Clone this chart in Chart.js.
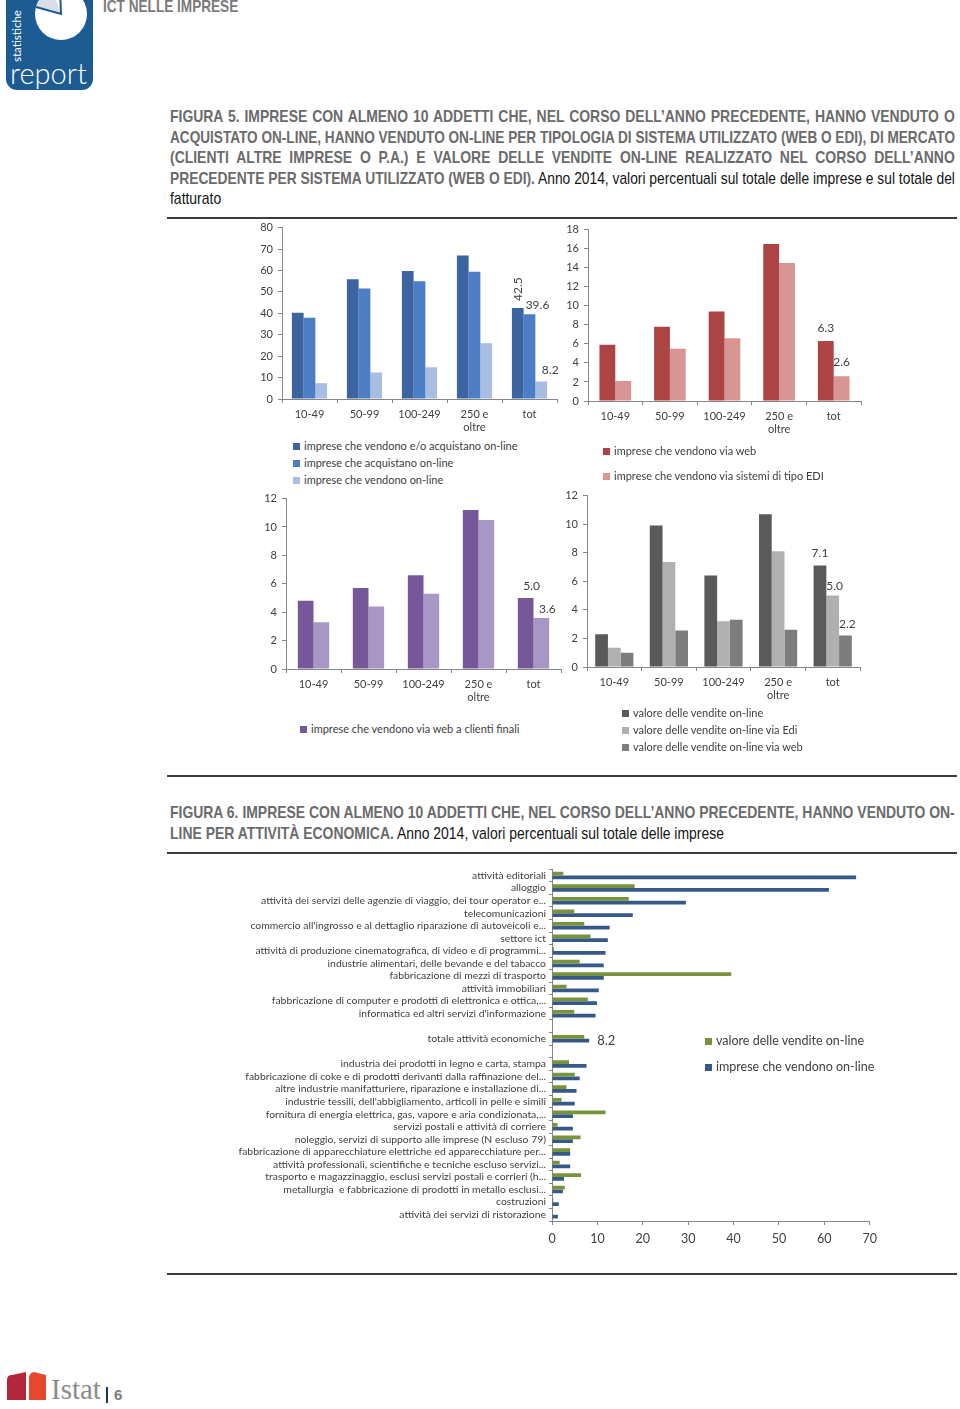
<!DOCTYPE html>
<html><head><meta charset="utf-8">
<script src="https://cdn.jsdelivr.net/npm/chart.js@4.4.1/dist/chart.umd.min.js"></script>
<style>
html,body{margin:0;padding:0;background:#fff;}
body{width:960px;height:1409px;position:relative;overflow:hidden;font-family:Lato,"Open Sans",sans-serif;}
.abs{position:absolute;}
.ttl{position:absolute;font-family:"Liberation Sans",Arial,sans-serif;transform:scaleX(0.82);transform-origin:0 0;width:957px;}
.tline{height:20.6px;line-height:20.6px;font-size:17px;white-space:nowrap;text-align:justify;text-align-last:justify;transform-origin:0 0;}
.tline.left{text-align:left;text-align-last:left;}
.b{font-weight:bold;color:#6b6b6b;}
.n{color:#151515;}
.rule{position:absolute;left:167px;width:790px;height:1.5px;background:#3c3c3c;}
.legend{position:absolute;font-size:11px;color:#404040;}
.legend .it{position:absolute;white-space:nowrap;}
.legend .sq{display:inline-block;width:7px;height:7px;margin-right:4px;vertical-align:0px;}
.cw{position:absolute;}
</style>
</head><body>

<svg class="abs" style="left:0;top:0" width="100" height="95">
  <rect x="6" y="-12" width="87" height="102" rx="11" fill="#1d5c92"/>
  <circle cx="61" cy="14" r="26" fill="#ffffff"/>
  <path d="M61 14 L36 7 A26 26 0 0 1 52 -10 Z" fill="#d9dee6"/>
  <path d="M36 7 L61 14 L60 -12" stroke="#1d5c92" stroke-width="2" fill="none"/>
  <text x="21" y="62" transform="rotate(-90 21 62)" fill="#fff" font-size="11.5" font-family="Lato, sans-serif">statistiche</text>
  <text x="10" y="84" fill="#fff" font-size="29" font-weight="300" font-family="Lato, sans-serif">report</text>
</svg>
<div class="abs" style="left:103px;top:-3px;font-family:'Liberation Sans',Arial,sans-serif;font-size:17px;font-weight:bold;color:#7a7a7a;transform:scaleX(0.8);transform-origin:0 0;white-space:nowrap;">ICT NELLE IMPRESE</div>

<div class="ttl" style="left:170px;top:107px;">
  <div class="tline b">FIGURA 5. IMPRESE CON ALMENO 10 ADDETTI CHE, NEL CORSO DELL’ANNO PRECEDENTE, HANNO VENDUTO O</div>
  <div class="tline b">ACQUISTATO ON-LINE, HANNO VENDUTO ON-LINE PER TIPOLOGIA DI SISTEMA UTILIZZATO (WEB O EDI), DI MERCATO</div>
  <div class="tline b">(CLIENTI ALTRE IMPRESE O P.A.) E VALORE DELLE VENDITE ON-LINE REALIZZATO NEL CORSO DELL’ANNO</div>
  <div class="tline"><span class="b">PRECEDENTE PER SISTEMA UTILIZZATO (WEB O EDI).</span> <span class="n">Anno 2014, valori percentuali sul totale delle imprese e sul totale del</span></div>
  <div class="tline left n">fatturato</div>
</div>
<div class="rule" style="top:217px"></div>

<div class="cw" style="left:250px;top:216px;width:310px;height:223px"><canvas id="c1"></canvas></div>
<div class="cw" style="left:555px;top:218px;width:310px;height:223px"><canvas id="c2"></canvas></div>
<div class="cw" style="left:254px;top:487px;width:310px;height:222px"><canvas id="c3"></canvas></div>
<div class="cw" style="left:555px;top:484px;width:310px;height:223px"><canvas id="c4"></canvas></div>

<div id="lg1" class="legend" style="left:293px;top:439px"></div>
<div id="lg2" class="legend" style="left:603px;top:444px"></div>
<div id="lg3" class="legend" style="left:300px;top:722px"></div>
<div id="lg4" class="legend" style="left:622px;top:706px"></div>

<div class="rule" style="top:775px"></div>

<div class="ttl" style="left:170px;top:803px;">
  <div class="tline b">FIGURA 6. IMPRESE CON ALMENO 10 ADDETTI CHE, NEL CORSO DELL’ANNO PRECEDENTE, HANNO VENDUTO ON-</div>
  <div class="tline left"><span class="b">LINE PER ATTIVITÀ ECONOMICA.</span> <span class="n">Anno 2014, valori percentuali sul totale delle imprese</span></div>
</div>
<div class="rule" style="top:852px"></div>

<div class="cw" style="left:234px;top:860px;width:649px;height:391px"><canvas id="c5"></canvas></div>
<div id="lg5" class="legend" style="left:705px;top:1033px;font-size:12.5px"></div>

<div class="rule" style="top:1273px"></div>

<svg class="abs" style="left:0;top:1368px" width="140" height="40">
  <path d="M7 12 Q7 7 12 7 L26 4 L26 32 L7 32 Z" fill="#b3273b"/>
  <path d="M29 10 Q29 5 34 4 L46 7 L46 32 L29 32 Z" fill="#e5492b"/>
  <text x="51" y="31" fill="#8c8c8c" font-size="29" font-family="'Liberation Serif','DejaVu Serif',serif">Istat</text>
  <rect x="106" y="19" width="2" height="16" fill="#1c3460"/>
  <text x="114" y="32" fill="#7a7a7a" font-size="15" font-weight="bold" font-family="'Liberation Sans',sans-serif">6</text>
</svg>

<script>
// ---------- DATA ----------
const sizeClasses = ['10-49', '50-99', '100-249', ['250 e', 'oltre'], 'tot'];

const venAcqName = 'imprese che vendono e/o acquistano on-line';
const acqName = 'imprese che acquistano on-line';
const venName = 'imprese che vendono on-line';
const venAcqValues = [40.3, 55.9, 59.8, 67.0, 42.5];
const acqValues = [37.9, 51.6, 55.0, 59.4, 39.6];
const venValues = [7.3, 12.4, 14.8, 26.0, 8.2];

const webName = 'imprese che vendono via web';
const ediName = 'imprese che vendono via sistemi di tipo EDI';
const webValues = [5.9, 7.8, 9.4, 16.5, 6.3];
const ediValues = [2.1, 5.5, 6.6, 14.5, 2.6];

const finaliName = 'imprese che vendono via web a clienti finali';
const finaliValues = [4.8, 5.7, 6.6, 11.2, 5.0];
const finaliValues2 = [3.3, 4.4, 5.3, 10.5, 3.6];

const valTotName = 'valore delle vendite on-line';
const valEdiName = 'valore delle vendite on-line via Edi';
const valWebName = 'valore delle vendite on-line via web';
const valTotValues = [2.3, 9.9, 6.4, 10.7, 7.1];
const valEdiValues = [1.35, 7.35, 3.2, 8.1, 5.0];
const valWebValues = [1.0, 2.55, 3.3, 2.6, 2.2];

const ticks80 = [0, 10, 20, 30, 40, 50, 60, 70, 80];
const ticks18 = [0, 2, 4, 6, 8, 10, 12, 14, 16, 18];
const ticks12 = [0, 2, 4, 6, 8, 10, 12];
const ticks70 = [0, 10, 20, 30, 40, 50, 60, 70];

const sectors = [
  'attività editoriali',
  'alloggio',
  'attività dei servizi delle agenzie di viaggio, dei tour operator e...',
  'telecomunicazioni',
  "commercio all'ingrosso e al dettaglio riparazione di autoveicoli e...",
  'settore ict',
  'attività di produzione cinematografica, di video e di programmi...',
  'industrie alimentari, delle bevande e del tabacco',
  'fabbricazione di mezzi di trasporto',
  'attività immobiliari',
  'fabbricazione di computer e prodotti di elettronica e ottica,...',
  "informatica ed altri servizi d'informazione",
  '',
  'totale attività economiche',
  '',
  'industria dei prodotti in legno e carta, stampa',
  'fabbricazione di coke e di prodotti derivanti dalla raffinazione del...',
  'altre industrie manifatturiere, riparazione e installazione di...',
  "industrie tessili, dell'abbigliamento, articoli in pelle e simili",
  'fornitura di energia elettrica, gas, vapore e aria condizionata,...',
  'servizi postali e attività di corriere',
  'noleggio, servizi di supporto alle imprese (N escluso 79)',
  'fabbricazione di apparecchiature elettriche ed apparecchiature per...',
  'attività professionali, scientifiche e tecniche escluso servizi...',
  'trasporto e magazzinaggio, esclusi servizi postali e corrieri (h...',
  'metallurgia  e fabbricazione di prodotti in metallo esclusi...',
  'costruzioni',
  'attività dei servizi di ristorazione'
];
const sectorValName = 'valore delle vendite on-line';
const sectorImpName = 'imprese che vendono on-line';
const sectorValValues = [2.5, 18.2, 16.9, 4.9, 7.1, 8.5, 0.45, 6.1, 39.5, 3.2, 7.9, 4.9, null, 7.1, null,
  3.75, 5.0, 3.2, 2.1, 11.8, 1.2, 6.3, 4.0, 1.7, 6.4, 2.8, 0.3, 0.2];
const sectorImpValues = [67.0, 61.0, 29.5, 17.8, 12.7, 12.3, 11.8, 11.4, 11.4, 10.3, 9.9, 9.6, null, 8.2, null,
  7.6, 6.1, 5.4, 5.0, 4.6, 4.6, 4.6, 4.0, 4.0, 2.65, 2.4, 1.5, 1.3];

// ---------- fit title lines ----------
document.querySelectorAll('.tline').forEach(el => {
  const cw = el.clientWidth, sw = el.scrollWidth;
  if (sw > cw + 0.5) {
    const k = cw / sw;
    el.style.width = (cw / k) + 'px';
    el.style.transform = 'scaleX(' + k + ')';
  }
});

// ---------- STYLE ----------
const FONT = 'Lato, "Open Sans", sans-serif';
const AXIS = '#868686';
const TXT = '#404040';
Chart.defaults.font.family = FONT;
Chart.defaults.color = TXT;

const valueLabels = {
  id: 'valueLabels',
  afterDatasetsDraw(chart, args, opts) {
    const items = opts.items || [];
    const ctx = chart.ctx;
    items.forEach(it => {
      const el = chart.getDatasetMeta(it.ds).data[it.index];
      const v = chart.data.datasets[it.ds].data[it.index];
      if (!el || v == null) return;
      const text = v.toFixed(1);
      ctx.save();
      ctx.font = (opts.size || 12) + 'px ' + FONT;
      ctx.fillStyle = TXT;
      if (it.horizontal) {
        ctx.textAlign = 'left'; ctx.textBaseline = 'middle';
        ctx.fillText(text, el.x + it.dx, el.y + (it.dy || 0));
      } else if (it.rotate) {
        ctx.translate(el.x + it.dx, el.y - it.dy);
        ctx.rotate(-Math.PI / 2);
        ctx.textAlign = 'left'; ctx.textBaseline = 'middle';
        ctx.fillText(text, 0, 0);
      } else {
        ctx.textAlign = 'center'; ctx.textBaseline = 'bottom';
        ctx.fillText(text, el.x + it.dx, el.y - it.dy);
      }
      ctx.restore();
    });
  }
};
Chart.register(valueLabels);

function legendHTML(id, names, colors, step) {
  const el = document.getElementById(id);
  el.innerHTML = names.map((n, i) =>
    '<div class="it" style="top:' + (i * step) + 'px"><span class="sq" style="background:' + colors[i] + '"></span>' + n + '</div>'
  ).join('');
}

function columnChart(id, series, tickVals, yWidth, padRight, catPct, items) {
  const yMax = tickVals[tickVals.length - 1];
  return new Chart(document.getElementById(id), {
    type: 'bar',
    data: {
      labels: sizeClasses,
      datasets: series.map(s => ({
        label: s.name, data: s.data, backgroundColor: s.color,
        barPercentage: 1, categoryPercentage: catPct, borderWidth: 0
      }))
    },
    options: {
      responsive: true, maintainAspectRatio: false, animation: false, devicePixelRatio: 1,
      layout: { padding: { left: 0, right: padRight, top: 0, bottom: 0 } },
      plugins: { legend: { display: false }, tooltip: { enabled: false }, valueLabels: { items: items, size: 12 } },
      scales: {
        x: {
          grid: { display: true, drawOnChartArea: false, drawTicks: true, tickLength: 4, color: AXIS, offset: true },
          border: { display: true, color: AXIS },
          ticks: { font: { size: 11 }, color: TXT, padding: 5, maxRotation: 0, autoSkip: false },
          afterFit: s => { s.height = 40; }
        },
        y: {
          min: 0, max: yMax,
          afterBuildTicks: s => { s.ticks = tickVals.map(v => ({ value: v })); },
          grid: { display: true, drawOnChartArea: false, drawTicks: true, tickLength: 4, color: AXIS },
          border: { display: true, color: AXIS },
          ticks: { font: { size: 11 }, color: TXT, padding: 5 },
          afterFit: s => { s.width = yWidth; }
        }
      }
    }
  });
}

// colours
const cVenAcq = '#3b64a0', cAcq = '#4b7ec4', cVen = '#a9bde2';
const cWeb = '#ad4444', cEdi = '#d79593';
const cFin1 = '#76579a', cFin2 = '#a896c4';
const cValTot = '#5a5a5a', cValEdi = '#b0b0b0', cValWeb = '#7d7d7d';
const cSecVal = '#77933c', cSecImp = '#36598a';

columnChart('c1', [
  { name: venAcqName, data: venAcqValues, color: cVenAcq },
  { name: acqName, data: acqValues, color: cAcq },
  { name: venName, data: venValues, color: cVen }
], ticks80, 32, 3, 0.64, [
  { ds: 0, index: 4, dx: 0, dy: 7, rotate: true },
  { ds: 1, index: 4, dx: 8, dy: 3 },
  { ds: 2, index: 4, dx: 9, dy: 5 }
]);
legendHTML('lg1', [venAcqName, acqName, venName], [cVenAcq, cAcq, cVen], 17);

columnChart('c2', [
  { name: webName, data: webValues, color: cWeb },
  { name: ediName, data: ediValues, color: cEdi }
], ticks18, 33, 4, 0.58, [
  { ds: 0, index: 4, dx: 0, dy: 7 },
  { ds: 1, index: 4, dx: 0, dy: 8 }
]);
legendHTML('lg2', [webName, ediName], [cWeb, cEdi], 25);

columnChart('c3', [
  { name: finaliName, data: finaliValues, color: cFin1 },
  { name: '', data: finaliValues2, color: cFin2 }
], ticks12, 32, 3, 0.57, [
  { ds: 0, index: 4, dx: 6, dy: 6 },
  { ds: 1, index: 4, dx: 6, dy: 3 }
]);
legendHTML('lg3', [finaliName], [cFin1], 17);

columnChart('c4', [
  { name: valTotName, data: valTotValues, color: cValTot },
  { name: valEdiName, data: valEdiValues, color: cValEdi },
  { name: valWebName, data: valWebValues, color: cValWeb }
], ticks12, 32, 5, 0.70, [
  { ds: 0, index: 4, dx: 0, dy: 6 },
  { ds: 1, index: 4, dx: 2, dy: 3 },
  { ds: 2, index: 4, dx: 2, dy: 5 }
]);
legendHTML('lg4', [valTotName, valEdiName, valWebName], [cValTot, cValEdi, cValWeb], 17);

new Chart(document.getElementById('c5'), {
  type: 'bar',
  data: {
    labels: sectors,
    datasets: [
      { label: sectorValName, data: sectorValValues, backgroundColor: cSecVal, barPercentage: 1, categoryPercentage: 0.6, borderWidth: 0 },
      { label: sectorImpName, data: sectorImpValues, backgroundColor: cSecImp, barPercentage: 1, categoryPercentage: 0.6, borderWidth: 0 }
    ]
  },
  options: {
    indexAxis: 'y',
    responsive: true, maintainAspectRatio: false, animation: false, devicePixelRatio: 1,
    layout: { padding: { left: 0, right: 8, top: 0, bottom: 0 } },
    plugins: { legend: { display: false }, tooltip: { enabled: false },
      valueLabels: { items: [{ ds: 1, index: 13, dx: 8, dy: 0, horizontal: true }], size: 13 } },
    scales: {
      x: {
        min: 0, max: 70,
        afterBuildTicks: s => { s.ticks = ticks70.map(v => ({ value: v })); },
        grid: { display: true, drawOnChartArea: false, drawTicks: true, tickLength: 4, color: AXIS },
        border: { display: true, color: AXIS },
        ticks: { font: { size: 12.5 }, color: TXT, padding: 6, maxRotation: 0 },
        afterFit: s => { s.height = 30; }
      },
      y: {
        grid: { display: true, drawOnChartArea: false, drawTicks: true, tickLength: 3, color: AXIS, offset: true },
        border: { display: true, color: AXIS },
        ticks: { font: { size: 10.4 }, color: TXT, padding: 3, autoSkip: false },
        afterFit: s => { s.width = 318; }
      }
    }
  }
});
legendHTML('lg5', [sectorValName, sectorImpName], [cSecVal, cSecImp], 26);
</script>
</body></html>
